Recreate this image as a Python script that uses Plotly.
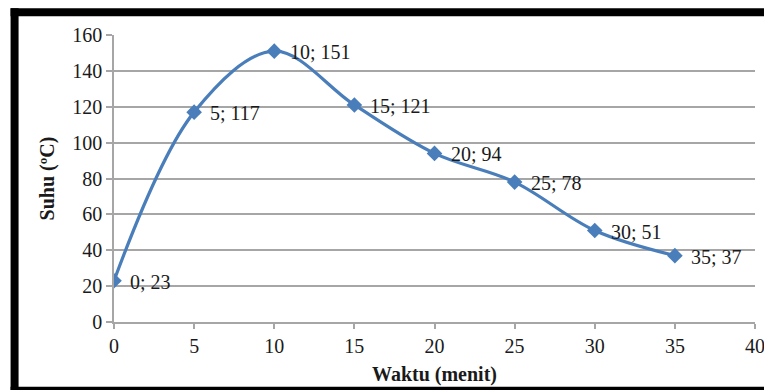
import plotly.graph_objects as go

# Heating curve: time (minutes) vs temperature (°C)
waktu = [0, 5, 10, 15, 20, 25, 30, 35]
suhu = [23, 117, 151, 121, 94, 78, 51, 37]
x_ticks = [0, 5, 10, 15, 20, 25, 30, 35, 40]
y_ticks = [0, 20, 40, 60, 80, 100, 120, 140, 160]

W, H = 764, 390
L, R, T, B = 113.5, 9, 34.7, 68.3
SERIF = "Times New Roman, Liberation Serif, serif"
BLUE = "#4a7ebb"
GRID = "#a6a6a6"
TXT = "#1a1a1a"

fig = go.Figure()
fig.add_trace(go.Scatter(
    x=waktu, y=suhu, mode="lines+markers",
    line=dict(color=BLUE, width=3.2, shape="spline", smoothing=1.0),
    marker=dict(symbol="diamond", size=12, color=BLUE),
    hoverinfo="skip", showlegend=False,
))

for xv, yv in zip(waktu, suhu):
    fig.add_annotation(
        x=xv, y=yv, text=f"{xv}; {yv}", showarrow=False,
        xanchor="left", yanchor="middle", xshift=14, yshift=-1,
        font=dict(family=SERIF, size=20, color=TXT),
    )

pw, ph = W - L - R, H - T - B


def px_x(p):
    return (p - L) / pw


def px_y(p):
    return (H - B - p) / ph


# black frame around the chart
for x0, y0, x1, y1 in [(10, 8, W + 5, 16), (10, 8, 18, H + 5), (10, 386.5, W + 5, H + 5)]:
    fig.add_shape(type="rect", xref="paper", yref="paper",
                  x0=px_x(x0), x1=px_x(x1), y0=px_y(y1), y1=px_y(y0),
                  fillcolor="black", line=dict(width=0), layer="above")

fig.update_layout(
    width=W, height=H,
    margin=dict(l=L, r=R, t=T, b=B, autoexpand=False),
    paper_bgcolor="white", plot_bgcolor="white",
    font=dict(family=SERIF, size=20, color=TXT),
    xaxis=dict(
        range=[0, 40], tickvals=x_ticks, ticktext=[str(v) for v in x_ticks],
        showgrid=False, zeroline=False, automargin=False, ticklabeloverflow="allow",
        showline=True, linecolor=GRID, linewidth=1.5,
        ticks="outside", ticklen=5, tickcolor=GRID, tickwidth=1.5,
        title=dict(text="<b>Waktu (menit)</b>", font=dict(family=SERIF, size=20), standoff=11),
    ),
    yaxis=dict(
        range=[0, 160], tickvals=y_ticks, ticktext=[str(v) for v in y_ticks],
        showgrid=True, gridcolor=GRID, gridwidth=1.5, zeroline=False,
        automargin=False, ticklabeloverflow="allow",
        showline=True, linecolor=GRID, linewidth=1.5,
        ticks="outside", ticklen=6, tickcolor=GRID, tickwidth=1.5,
        title=dict(text="<b>Suhu (ºC)</b>", font=dict(family=SERIF, size=20), standoff=12),
    ),
)

fig.write_html("out.html")
